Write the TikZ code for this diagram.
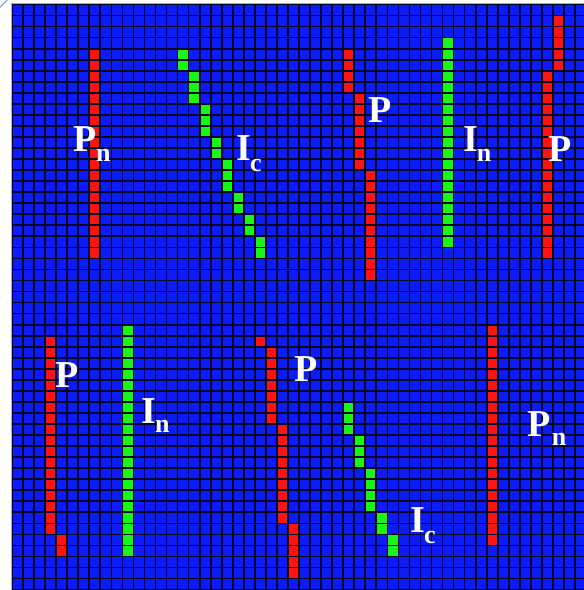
\documentclass[tikz,border=0pt]{standalone}
\usepackage{fontspec}
\setmainfont{Liberation Serif}
\definecolor{cellblue}{RGB}{12,28,248}
\definecolor{gridline}{RGB}{4,4,36}
\definecolor{cellred}{RGB}{255,18,18}
\definecolor{cellgreen}{RGB}{24,245,24}
\definecolor{framegrey}{RGB}{170,170,175}
\definecolor{cornerblue}{RGB}{110,140,225}
\newcommand{\vrun}[4]{\fill[#1] ({12+11.04*#2},{4.5+11.04*#3}) rectangle ({12+11.04*(#2+1)},{4.5+11.04*(#4+1)});}
\tikzset{
  lab/.style={text=white, font=\fontsize{38}{38}\selectfont\bfseries, inner sep=0pt, anchor=base west},
  sublab/.style={text=white, font=\fontsize{26}{26}\selectfont\bfseries, inner sep=0pt, anchor=base west},
  gridl/.style={draw=gridline, line width=1.7pt},
}
\begin{document}
\begin{tikzpicture}[x=1pt,y=-1pt]
\useasboundingbox (0,0) rectangle (584,590);
\clip (0,0) rectangle (584,590);
\fill[white] (0,0) rectangle (584,590);
\fill[cellblue] (12,4.5) rectangle (590,595);
% red runs
\vrun{cellred}{7}{4}{22}
\vrun{cellred}{30}{4}{7}
\vrun{cellred}{31}{8}{14}
\vrun{cellred}{32}{15}{24}
\vrun{cellred}{49}{1}{5}
\vrun{cellred}{48}{6}{22}
\vrun{cellred}{3}{30}{47}
\vrun{cellred}{4}{48}{49}
\vrun{cellred}{22}{30}{30}
\vrun{cellred}{23}{31}{37}
\vrun{cellred}{24}{38}{46}
\vrun{cellred}{25}{47}{51}
\vrun{cellred}{43}{29}{48}
% green runs
\vrun{cellgreen}{15}{4}{5}
\vrun{cellgreen}{16}{6}{8}
\vrun{cellgreen}{17}{9}{11}
\vrun{cellgreen}{18}{12}{13}
\vrun{cellgreen}{19}{14}{16}
\vrun{cellgreen}{20}{17}{18}
\vrun{cellgreen}{21}{19}{20}
\vrun{cellgreen}{22}{21}{22}
\vrun{cellgreen}{39}{3}{21}
\vrun{cellgreen}{10}{29}{49}
\vrun{cellgreen}{30}{36}{38}
\vrun{cellgreen}{31}{39}{41}
\vrun{cellgreen}{32}{42}{45}
\vrun{cellgreen}{33}{46}{47}
\vrun{cellgreen}{34}{48}{49}
% grid lines
\foreach \k in {0,...,52} {\draw[gridl] ({12+11.04*\k},4.5) -- ({12+11.04*\k},595);}
\foreach \k in {0,...,53} {\draw[gridl] (12,{4.5+11.04*\k}) -- (590,{4.5+11.04*\k});}
% frame
\draw[framegrey, line width=0.8pt] (11,595) -- (11,3.3) -- (590,3.3);
\draw[cornerblue, line width=0.8pt] (0,7.3) -- (7.3,0);
% labels
\node[lab] (pa) at (73.3,151.7) {P};
\node[sublab] (pan) at (96,161) {n};
\node[lab] (ia) at (236.7,160) {I};
\node[sublab] (iac) at (250,171.7) {c};
\node[lab] (pb) at (368,122.7) {P};
\node[lab] (ib) at (463.3,151.7) {I};
\node[sublab] (ibn) at (476.7,161.7) {n};
\node[lab] (pc) at (548.3,161.7) {P};
\node[lab] (pd) at (55,387.3) {P};
\node[lab] (ic) at (141.7,423.3) {I};
\node[sublab] (icn) at (155,432) {n};
\node[lab] (pe) at (294,381.7) {P};
\node[lab] (id) at (410,532) {I};
\node[sublab] (idc) at (424,543) {c};
\node[lab] (pf) at (527.3,436) {P};
\node[sublab] (pfn) at (551.7,445.7) {n};
\end{tikzpicture}
\end{document}
